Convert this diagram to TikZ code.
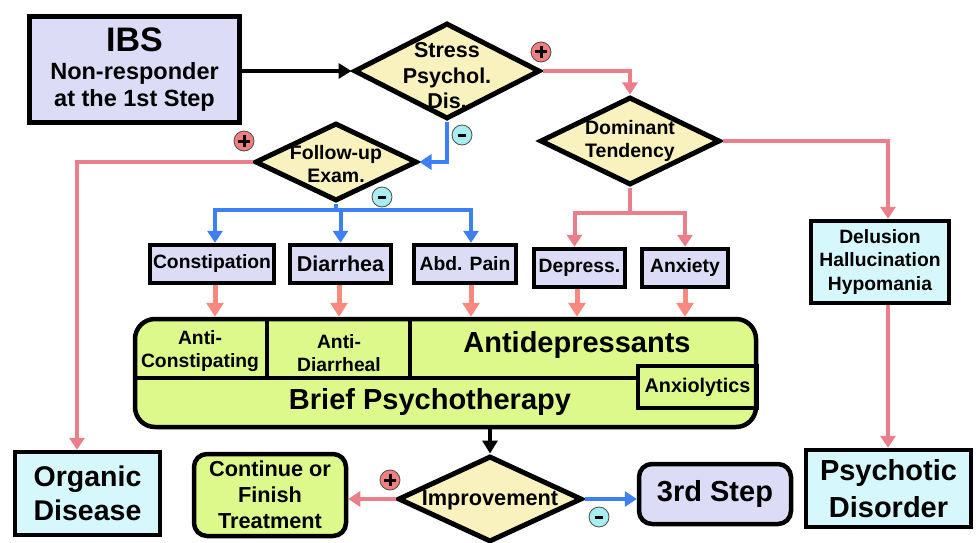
\documentclass[tikz,border=0pt]{standalone}
\usepackage{fontspec}
\setmainfont{Liberation Sans}
\usetikzlibrary{shapes.geometric,arrows.meta}
\definecolor{lav}{HTML}{DCDCF6}
\definecolor{cyanf}{HTML}{D6F8FC}
\definecolor{yel}{HTML}{FAF2BE}
\definecolor{grn}{HTML}{DEF98B}
\definecolor{redl}{HTML}{EA7E8A}
\definecolor{salm}{HTML}{F7897F}
\definecolor{bluel}{HTML}{3D7FF5}
\definecolor{pbad}{HTML}{F08080}
\definecolor{mbad}{HTML}{A8EEF0}
\begin{document}
\begin{tikzpicture}[x=1pt,y=-1pt,
  box/.style={draw, line width=4.5pt, inner sep=0pt, align=center, font=\bfseries\fontsize{19.3}{23}\selectfont},
  symp/.style={box, fill=lav},
  cyanbox/.style={box, fill=cyanf},
  dia/.style={diamond, draw, line width=5pt, fill=yel, inner sep=0pt},
  dtext/.style={align=center, font=\bfseries\fontsize{19.5}{23.5}\selectfont},
  ctext/.style={align=center, inner sep=0pt, font=\bfseries\fontsize{19.3}{23}\selectfont},
  bigtext/.style={inner sep=0pt, font=\bfseries\fontsize{29}{34}\selectfont},
  redc/.style={draw=redl, line width=4pt, -{Triangle[width=15pt,length=12pt]}},
  redline/.style={draw=redl, line width=4pt},
  bluec/.style={draw=bluel, line width=4pt, -{Triangle[width=15pt,length=12pt]}},
  blueline/.style={draw=bluel, line width=4pt},
  blk/.style={draw=black, line width=4pt, -{Triangle[width=15pt,length=13pt]}},
  stub/.style={draw=salm, line width=5pt, -{Triangle[width=17pt,length=14pt]}},
  pbadge/.style={circle, draw=black!70, line width=0.8pt, fill=pbad, minimum size=20pt, inner sep=0pt},
  mbadge/.style={circle, draw=black!70, line width=0.8pt, fill=mbad, minimum size=20pt, inner sep=0pt},
  sign/.style={line width=3pt, black}
]
\useasboundingbox (0,0) rectangle (978,543);

% main boxes
\node[symp, minimum width=210pt, minimum height=106pt] (ibs) at (134.5,69.5)
  {{\fontsize{34}{36}\selectfont IBS}\\[5pt]{\fontsize{23.5}{28}\selectfont Non-responder}\\[4pt]{\fontsize{23.5}{28}\selectfont at the 1st Step}};

\node[dia, minimum width=186pt, minimum height=96pt,
  label={[dtext,font=\bfseries\fontsize{21.5}{25.5}\selectfont,yshift=-5pt]center:Stress\\Psychol.\\Dis.}] (stress) at (447,71) {};
\node[dia, minimum width=180pt, minimum height=88pt,
  label={[dtext]center:Dominant\\Tendency}] (dom) at (630,141) {};
\node[dia, minimum width=162pt, minimum height=78pt,
  label={[dtext,yshift=-2pt]center:Follow-up\\Exam.}] (follow) at (336,162) {};
\node[dia, minimum width=184pt, minimum height=86pt,
  label={[dtext,font=\bfseries\fontsize{21.7}{24}\selectfont,yshift=-1pt]center:Improvement}] (imp) at (490,499) {};

% symptom boxes
\node[symp, minimum width=124pt, minimum height=38pt] (const) at (212,264) {Constipation};
\node[symp, minimum width=101pt, minimum height=38pt, font=\bfseries\fontsize{21.5}{24}\selectfont] (diar) at (340.5,264) {Diarrhea};
\node[symp, minimum width=102pt, minimum height=38pt] (abd) at (465,264) {Abd. Pain};
\node[symp, minimum width=91pt, minimum height=38pt] (dep) at (579.5,268) {Depress.};
\node[symp, minimum width=86pt, minimum height=38pt] (anx) at (685,268) {Anxiety};

\node[cyanbox, minimum width=138pt, minimum height=82pt, font=\bfseries\fontsize{19.3}{23.5}\selectfont] (del) at (880,262) {Delusion\\Hallucination\\Hypomania};
\node[cyanbox, minimum width=165pt, minimum height=77pt, font=\bfseries\fontsize{29}{37}\selectfont] (psy) at (888.5,488.5) {Psychotic\\Disorder};
\node[cyanbox, minimum width=145pt, minimum height=83pt, font=\bfseries\fontsize{28.5}{34}\selectfont] (org) at (87.5,493.5) {Organic\\Disease};

\node[box, fill=grn, rounded corners=13pt, minimum width=152pt, minimum height=82pt, font=\bfseries\fontsize{21.7}{26}\selectfont] (cont) at (270,495) {Continue or\\Finish\\Treatment};
\node[box, fill=lav, rounded corners=13pt, minimum width=152pt, minimum height=60pt, font=\bfseries\fontsize{29}{34}\selectfont] (step3) at (715,494) {3rd Step};

% treatment block
\node[draw, line width=4.5pt, fill=grn, rounded corners=20pt, minimum width=621pt, minimum height=108pt] (green) at (445.5,373) {};
\draw[line width=3.5pt] (135,378) -- (638,378);
\draw[line width=3.5pt] (267,319) -- (267,378);
\draw[line width=3.5pt] (410,319) -- (410,378);
\node[draw, line width=3.5pt, minimum width=119pt, minimum height=42pt, inner sep=0pt, font=\bfseries\fontsize{19.8}{23}\selectfont] (anxio) at (697.5,387) {Anxiolytics};
\node[ctext] (acon) at (200,351) {Anti-\\Constipating};
\node[ctext] (adia) at (339,353) {Anti-\\Diarrheal};
\node[bigtext] (adep) at (577,345) {Antidepressants};
\node[bigtext] (brief) at (430,402) {Brief Psychotherapy};

% connectors
\draw[blk] (ibs.east |- stress.west) -- (stress.west);
\draw[redc] (stress.east) -| (dom.north);
\draw[bluec] (stress.south) |- (follow.east);
\draw[redc] (follow.west) -| ([xshift=-10.5pt]org.north);
\coordinate (bj) at (336,210);
\draw[blueline] (follow.south) -- (bj);
\draw[bluec] (bj) -| ([xshift=3pt]const.north);
\draw[bluec] (bj) -| (diar.north);
\draw[bluec] (bj) -| ([xshift=6pt]abd.north);
\coordinate (dj) at (630,213);
\draw[redline] (dom.south) -- (dj);
\draw[redc] (dj) -| ([xshift=-5pt]dep.north);
\draw[redc] (dj) -| (anx.north);
\draw[redc] (dom.east) -| ([xshift=8pt]del.north);
\draw[redc] ([xshift=8pt]del.south) -- ([xshift=8pt]del.south |- psy.north);

\draw[stub] ([xshift=3pt]const.south) -- ([xshift=3pt]const.south |- green.north);
\draw[stub] ([xshift=-1.5pt]diar.south) -- ([xshift=-1.5pt]diar.south |- green.north);
\draw[stub] ([xshift=6pt]abd.south) -- ([xshift=6pt]abd.south |- green.north);
\draw[stub] ([xshift=-2.5pt]dep.south) -- ([xshift=-2.5pt]dep.south |- green.north);
\draw[stub] (anx.south) -- (anx.south |- green.north);

\draw[blk] (imp.north |- green.south) -- (imp.north);
\draw[redc] (imp.west) -- (imp.west -| cont.east);
\draw[bluec] (imp.east) -- (imp.east -| step3.west);

% badges
\node[pbadge] (b1) at (541,52) {};
\draw[sign] (b1.center) +(-6,0) -- +(6,0) (b1.center) +(0,-6) -- +(0,6);
\node[mbadge] (b2) at (462,135) {};
\draw[sign] (b2.center) +(-4,0) -- +(4,0);
\node[pbadge] (b3) at (244,141) {};
\draw[sign] (b3.center) +(-6,0) -- +(6,0) (b3.center) +(0,-6) -- +(0,6);
\node[mbadge] (b4) at (382,197) {};
\draw[sign] (b4.center) +(-4,0) -- +(4,0);
\node[pbadge] (b5) at (390,480) {};
\draw[sign] (b5.center) +(-6,0) -- +(6,0) (b5.center) +(0,-6) -- +(0,6);
\node[mbadge] (b6) at (599,517) {};
\draw[sign] (b6.center) +(-4,0) -- +(4,0);
\end{tikzpicture}
\end{document}
